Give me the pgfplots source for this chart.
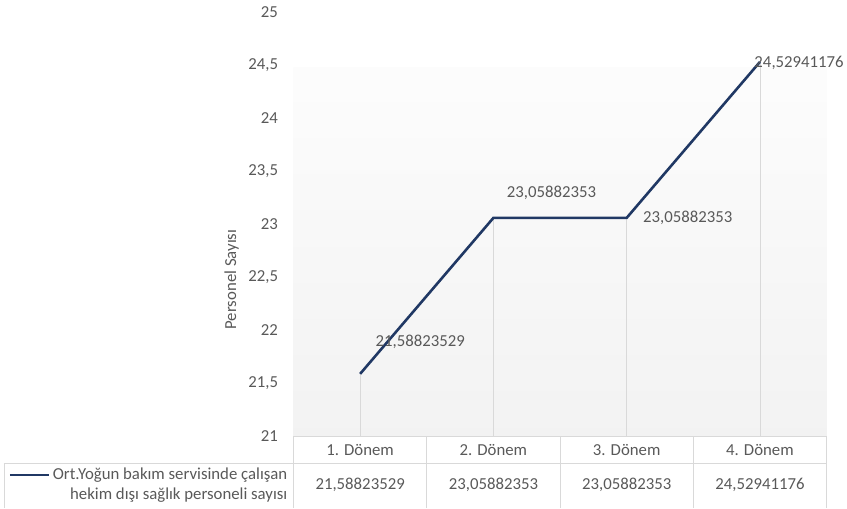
\documentclass[border=0pt]{standalone}
\usepackage{pgfplots}
\pgfplotsset{compat=1.18}
\usepackage{fontspec}
\setmainfont{Carlito}
\definecolor{serie}{HTML}{203864}
\definecolor{txt}{HTML}{595959}
\definecolor{rule}{HTML}{D9D9D9}
\definecolor{drop}{HTML}{D9D9D9}
\newcommand{\lbl}{\fontsize{16.8}{19}\selectfont}

\pgfplotstableread{
x y
1 21.58823529
2 23.05882353
3 23.05882353
4 24.52941176
}\donem

\begin{document}
\begin{tikzpicture}[x=1pt,y=1pt]
\begin{axis}[
  at={(0,0)}, anchor=south west,
  scale only axis, width=534pt, height=425pt,
  xmin=0.5, xmax=4.5, ymin=21, ymax=25,
  axis line style={draw=none},
  major tick length=0pt,
  xtick=\empty,
  ytick={21,21.5,...,25},
  /pgf/number format/use comma,
  /pgf/number format/assume math mode=true,
  yticklabel style={font=\lbl, text=txt, anchor=east, xshift=-12pt},
  clip mode=individual,
  set layers, axis background/.style={},
]
  % plot area background: light vertical gradient
  \begin{pgfonlayer}{axis background}
    \shade[top color=white!99!black, bottom color=black!5] (axis cs:0.5,21) rectangle (axis cs:4.5,24.48);
  \end{pgfonlayer}

  % drop lines from each point to the base
  \addplot[ycomb, draw=drop, line width=0.8pt, no marks] table[x=x,y=y] {\donem};
  % series
  \addplot[serie, line width=2.6pt, no marks] table[x=x,y=y] {\donem};

  % data labels
  \node[anchor=west, text=txt, font=\lbl, xshift=12pt, yshift=32pt] at (axis cs:1,21.58823529) {21,58823529};
  \node[anchor=west, text=txt, font=\lbl, xshift=10pt, yshift=25pt] at (axis cs:2,23.05882353) {23,05882353};
  \node[anchor=west, text=txt, font=\lbl, xshift=13pt, yshift=0pt] at (axis cs:3,23.05882353) {23,05882353};
  \node[anchor=west, text=txt, font=\lbl, xshift=-9pt, yshift=-1pt] at (axis cs:4,24.52941176) {24,52941176};
\end{axis}

% axis title
\node[rotate=90, text=txt, font=\lbl] at (-62,157) {Personel Sayısı};

% data table below the plot area
\draw[rule, line width=0.8pt]
  (0,0) -- (534,0)
  (-290,-27) -- (534,-27)
  (-290,-27) -- (-290,-72)
  (0,0) -- (0,-72)
  (133.5,0) -- (133.5,-72)
  (267,0) -- (267,-72)
  (400.5,0) -- (400.5,-72)
  (534,0) -- (534,-72);
\foreach \i/\n in {0/1,1/2,2/3,3/4}
  \node[text=txt, font=\lbl] at (66.75+133.5*\i,-14) {\n. Dönem};
\node[text=txt, font=\lbl] at (66.75,-49) {21,58823529};
\node[text=txt, font=\lbl] at (200.25,-49) {23,05882353};
\node[text=txt, font=\lbl] at (333.75,-49) {23,05882353};
\node[text=txt, font=\lbl] at (467.25,-49) {24,52941176};
% legend key and series name
\draw[serie, line width=2.6pt] (-284,-39) -- (-245,-39);
\node[text=txt, font=\fontsize{16.8}{20}\selectfont, align=right, anchor=north east, inner sep=0pt] at (-6,-31)
  {Ort.Yoğun bakım servisinde çalışan\\hekim dışı sağlık personeli sayısı};
\useasboundingbox (-294,-72) rectangle (553,437);
\end{tikzpicture}
\end{document}
